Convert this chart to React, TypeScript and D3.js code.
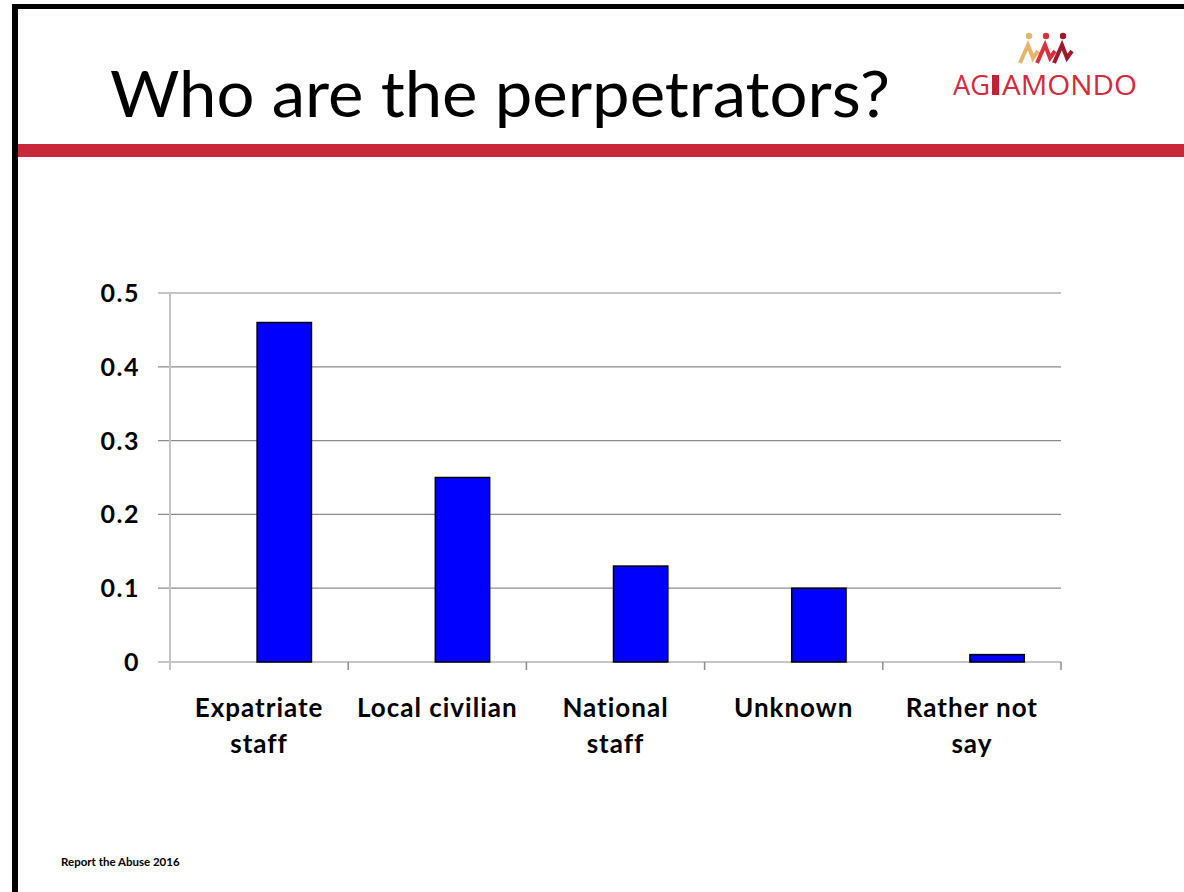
import * as d3 from 'd3';

// chart values
const categories = ['Expatriate staff', 'Local civilian', 'National staff', 'Unknown', 'Rather not say'];
const categoryLines = [['Expatriate', 'staff'], ['Local civilian'], ['National', 'staff'], ['Unknown'], ['Rather not', 'say']];
const values = [0.46, 0.25, 0.13, 0.10, 0.01];
const yTicks = [0, 0.1, 0.2, 0.3, 0.4, 0.5];

const title = 'Who are the perpetrators?';
const footer = 'Report the Abuse 2016';

const W = 1184;
const H = 892;
const plot = { left: 170, right: 1061, top: 293, bottom: 662 };

function Logo() {
    // three little figures over the brand name
    const figs = [
        { cx: 1029, color: '#e6b46c' },
        { cx: 1046, color: '#d8303f' },
        { cx: 1063, color: '#9c1a2c' },
    ];
    return (
        <g>
            {figs.map((f, i) => (
                <g key={i}>
                    <circle cx={f.cx} cy={36} r={3.2} fill={f.color} />
                    <path
                        d={`M${f.cx - 9},63 L${f.cx - 1},45 L${f.cx + 4},58 L${f.cx + 9},51`}
                        fill="none"
                        stroke={f.color}
                        strokeWidth={4}
                        strokeLinejoin="miter"
                    />
                </g>
            ))}
            <text x={953} y={95} fontFamily="'Open Sans', sans-serif" fontSize={28} fill="#d42a3c"
                textLength={37} lengthAdjust="spacingAndGlyphs">AG</text>
            <rect x={992} y={75} width={7} height={20} fill="#c41f33" />
            <text x={1002} y={95} fontFamily="'Open Sans', sans-serif" fontSize={28} fill="#d42a3c"
                textLength={135} lengthAdjust="spacingAndGlyphs">AMONDO</text>
        </g>
    );
}

export default function App() {
    const x = d3.scaleBand<string>().domain(categories).range([plot.left, plot.right]);
    const y = d3.scaleLinear().domain([0, 0.5]).range([plot.bottom, plot.top]);
    const bw = x.bandwidth();
    const barW = bw * 0.305;
    const edges = [...categories.map(c => x(c) as number), plot.right];

    return (
        <svg width={W} height={H} style={{ position: 'absolute', left: 0, top: 0, background: '#fff' }}>
            {/* slide frame */}
            <rect x={0} y={0} width={W} height={H} fill="#fff" />
            <line x1={12} x2={W} y1={6.5} y2={6.5} stroke="#000" strokeWidth={5} />
            <line x1={15} x2={15} y1={4} y2={H} stroke="#000" strokeWidth={6} />
            <rect x={18} y={144} width={W - 18} height={13} fill="#c9283a" />

            <text x={110} y={117} fontFamily="Lato, 'Open Sans', sans-serif" fontSize={63} fill="#000"
                textLength={780} lengthAdjust="spacingAndGlyphs">{title}</text>
            <Logo />

            {/* gridlines + y labels */}
            {yTicks.map(t => (
                <g key={t}>
                    <line x1={158} x2={plot.right} y1={y(t)} y2={y(t)} stroke="#8c8c8c" strokeWidth={1.2} />
                    <text x={140} y={y(t)} dy="0.36em" textAnchor="end" fontFamily="Lato, sans-serif"
                        fontWeight="bold" fontSize={25} letterSpacing={1.5} fill="#000">{t === 0 ? '0' : t.toFixed(1)}</text>
                </g>
            ))}
            <line x1={plot.left} x2={plot.left} y1={plot.top} y2={plot.bottom + 8} stroke="#c4c4c4" strokeWidth={2} />
            {edges.slice(1).map((e, i) => (
                <line key={i} x1={e} x2={e} y1={plot.bottom} y2={plot.bottom + 8} stroke="#8c8c8c" strokeWidth={1.5} />
            ))}

            {/* bars */}
            {categories.map((c, i) => (
                <rect key={c}
                    x={(x(c) as number) + bw / 2 - 2}
                    y={y(values[i])}
                    width={barW}
                    height={y(0) - y(values[i])}
                    fill="#0000ff"
                    stroke="#000"
                    strokeWidth={1.5} />
            ))}

            {/* category labels */}
            {categories.map((c, i) => (
                <text key={c} textAnchor="middle" fontFamily="Lato, sans-serif" fontWeight="bold" fontSize={26}
                    letterSpacing={1} fill="#000">
                    {categoryLines[i].map((ln, j) => (
                        <tspan key={j} x={(x(c) as number) + bw / 2} y={717 + j * 36}>{ln}</tspan>
                    ))}
                </text>
            ))}

            <text x={61} y={866} fontFamily="Lato, sans-serif" fontWeight="bold" fontSize={11.5} fill="#000">{footer}</text>
        </svg>
    );
}
